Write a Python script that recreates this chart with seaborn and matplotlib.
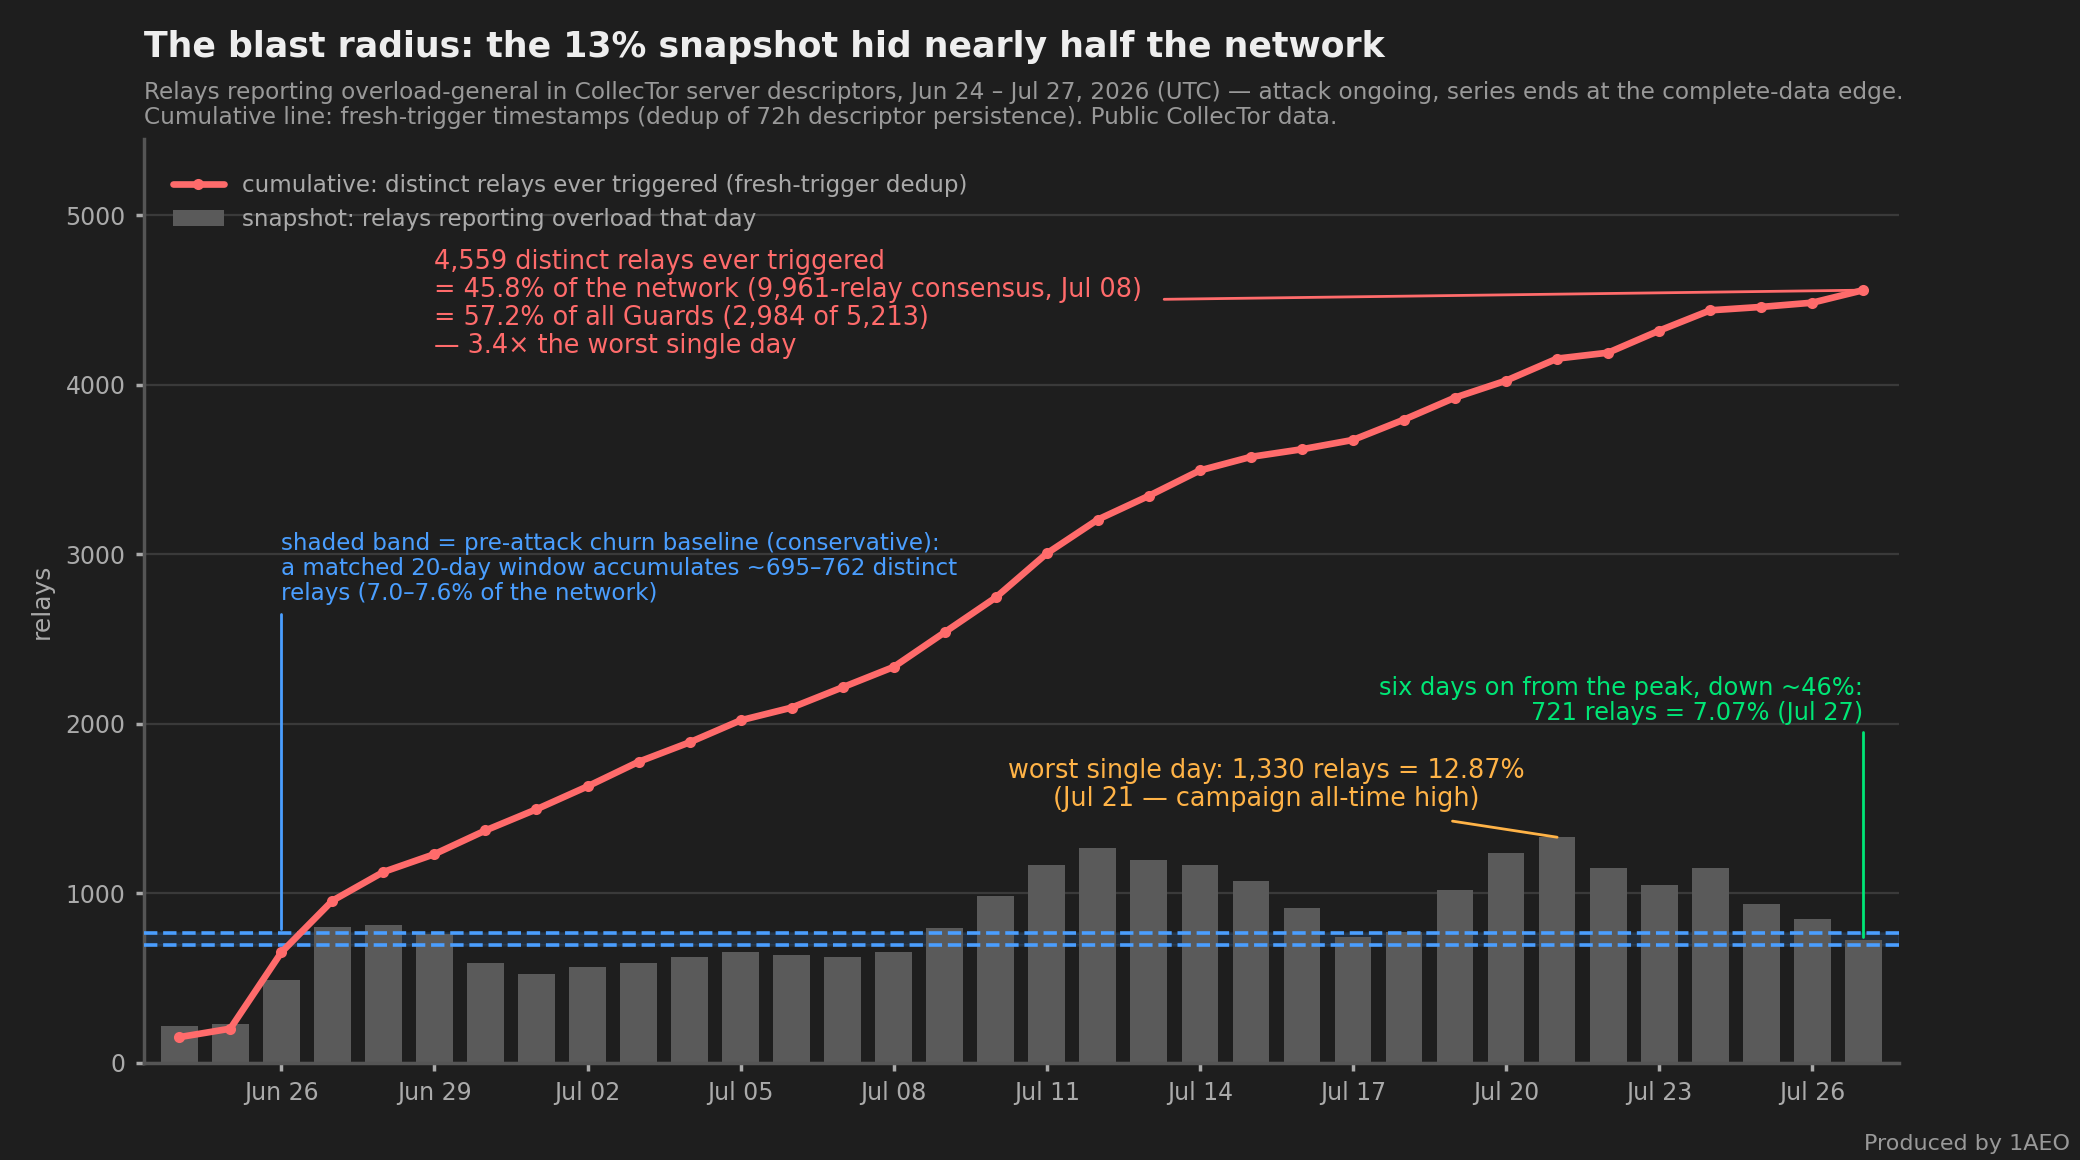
import matplotlib
matplotlib.use("Agg")
import matplotlib.pyplot as plt
import matplotlib.dates as mdates
import seaborn as sns
import pandas as pd
import numpy as np

dates = pd.date_range("2026-06-24", "2026-07-27", freq="D")
snapshot = [215, 225, 485, 800, 810, 760, 590, 525, 565, 590, 625, 650, 635, 625, 655, 795, 985,
            1165, 1265, 1195, 1165, 1070, 910, 740, 770, 1020, 1235, 1330, 1150, 1050, 1150, 935, 850, 721]
cumulative = [150, 200, 650, 955, 1125, 1230, 1370, 1495, 1630, 1775, 1890, 2020, 2095, 2215, 2335,
              2540, 2745, 3005, 3205, 3345, 3495, 3575, 3620, 3675, 3795, 3925, 4025, 4155, 4190,
              4320, 4440, 4460, 4485, 4559]
band_low, band_high = 695, 762

bg = "#1e1e1e"
sns.set_theme(style="dark")
plt.rcParams['font.family'] = ['DejaVu Sans']
fig = plt.figure(figsize=(10.4, 5.8), dpi=200, facecolor=bg)
ax = fig.add_axes([0.069, 0.084, 0.844, 0.796], facecolor=bg)

df = pd.DataFrame({"date": dates, "snapshot": snapshot, "cumulative": cumulative})
x = mdates.date2num(df["date"])
ax.bar(x, df["snapshot"], width=0.72, color="#5a5a5a", linewidth=0,
       label="snapshot: relays reporting overload that day", zorder=2)
sns.lineplot(x=x, y=df["cumulative"], ax=ax, color="#ff6b6b", lw=2.4, marker="o", markersize=4,
             markeredgewidth=0, label="cumulative: distinct relays ever triggered (fresh-trigger dedup)", zorder=4)
ax.axhspan(band_low, band_high, color="#4a9eff", alpha=0.12, zorder=1)
for v in (band_low, band_high):
    ax.axhline(v, color="#4a9eff", ls="--", lw=1.3, zorder=3)

ax.set_ylim(0, 5450)
ax.set_xlim(x[0] - 0.7, x[-1] + 0.7)
ticks = [mdates.date2num(pd.Timestamp(d)) for d in ["2026-06-26", "2026-06-29", "2026-07-02", "2026-07-05", "2026-07-08",
         "2026-07-11", "2026-07-14", "2026-07-17", "2026-07-20", "2026-07-23", "2026-07-26"]]
ax.set_xticks(ticks)
ax.xaxis.set_major_formatter(mdates.DateFormatter("%b %d"))
ax.set_yticks([0, 1000, 2000, 3000, 4000, 5000])
ax.grid(axis="y", color="#3a3a3a", lw=0.8, zorder=0)
ax.grid(axis="x", visible=False)
ax.tick_params(colors="#aaaaaa", labelsize=8.5, length=3, left=True, bottom=True)
for s in ["top", "right"]:
    ax.spines[s].set_visible(False)
for s in ["left", "bottom"]:
    ax.spines[s].set_color("#555555")
ax.set_ylabel("relays", color="#aaaaaa", fontsize=9)
ax.set_xlabel("")

leg = ax.legend(loc="upper left", frameon=False, fontsize=8.3, labelcolor="#aaaaaa",
                bbox_to_anchor=(0.005, 0.985), handlelength=2.2)

red = "#ff6b6b"
ax.text(mdates.date2num(pd.Timestamp("2026-06-29")), 4800,
        "4,559 distinct relays ever triggered\n= 45.8% of the network (9,961-relay consensus, Jul 08)\n= 57.2% of all Guards (2,984 of 5,213)\n— 3.4× the worst single day",
        color=red, fontsize=9.2, va="top", linespacing=1.1)
ax.plot([mdates.date2num(pd.Timestamp("2026-07-13")) + 0.3, x[-1]], [4505, 4559], color=red, lw=1)

blue = "#4a9eff"
bx = mdates.date2num(pd.Timestamp("2026-06-26"))
ax.text(bx, 3130, "shaded band = pre-attack churn baseline (conservative):\na matched 20-day window accumulates ~695–762 distinct\nrelays (7.0–7.6% of the network)",
        color=blue, fontsize=8.3, va="top", linespacing=1.1)
ax.plot([bx, bx], [2650, 790], color=blue, lw=1)

orange = "#ffb347"
ax.text(mdates.date2num(pd.Timestamp("2026-07-15")) + 0.3, 1480, "worst single day: 1,330 relays = 12.87%\n(Jul 21 — campaign all-time high)",
        color=orange, fontsize=9.2, ha="center", va="bottom", linespacing=1.1)
ax.plot([mdates.date2num(pd.Timestamp("2026-07-19")) - 0.05, x[27]], [1425, 1330], color=orange, lw=1)

green = "#00e676"
ax.text(x[-1], 1990, "six days on from the peak, down ~46%:\n721 relays = 7.07% (Jul 27)", color=green,
        fontsize=8.7, ha="right", va="bottom", linespacing=1.1)
ax.plot([x[-1], x[-1]], [1950, 740], color=green, lw=1)

fig.text(0.069, 0.945, "The blast radius: the 13% snapshot hid nearly half the network", color="#eeeeee",
         fontsize=12.5, fontweight="bold", va="bottom")
fig.text(0.069, 0.889, "Relays reporting overload-general in CollecTor server descriptors, Jun 24 – Jul 27, 2026 (UTC) — attack ongoing, series ends at the complete-data edge.\nCumulative line: fresh-trigger timestamps (dedup of 72h descriptor persistence). Public CollecTor data.",
         color="#999999", fontsize=8.35, va="bottom", linespacing=1.1)
fig.text(0.995, 0.005, "Produced by 1AEO", color="#999999", fontsize=8, ha="right", va="bottom")

fig.savefig("out.png", dpi=200, facecolor=bg)
